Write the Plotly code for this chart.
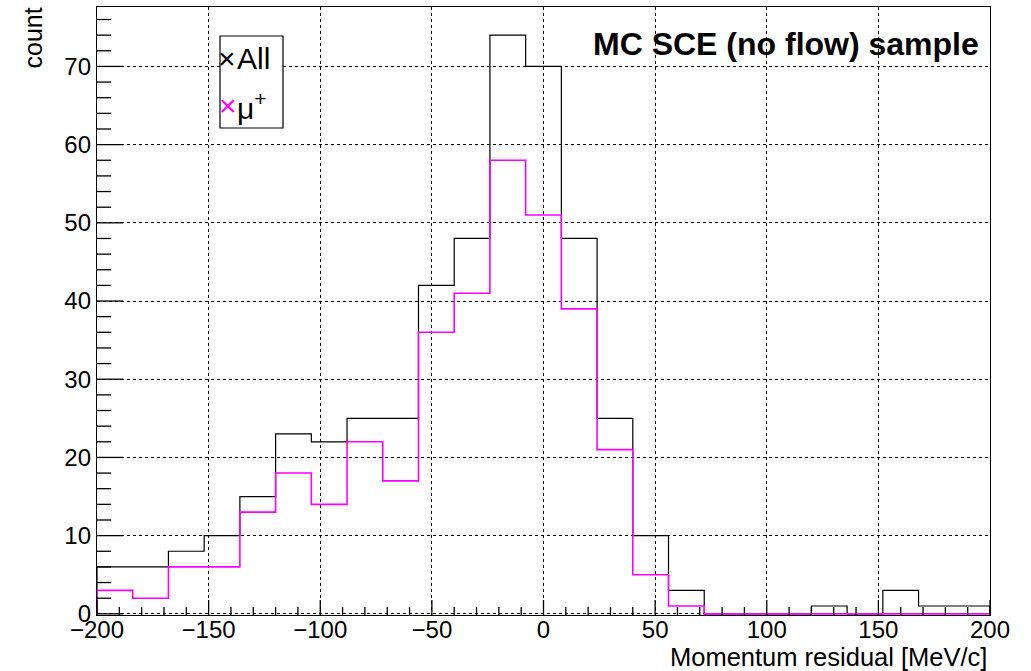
import numpy as np
import plotly.graph_objects as go

# Histogram binning: 25 bins of 16 MeV/c between -200 and 200
x_low, x_high, n_bins = -200.0, 200.0, 25

# Bin contents, left to right
counts_all = [6, 6, 8, 10, 15, 23, 22, 25, 25, 42, 48, 74, 70, 48, 25, 10, 3,
              0, 0, 0, 1, 0, 3, 1, 1]
counts_mu = [3, 2, 6, 6, 13, 18, 14, 22, 17, 36, 41, 58, 51, 39, 21, 5, 1,
             0, 0, 0, 0, 0, 0, 0, 0]

# Axis divisions
x_major = [-200, -150, -100, -50, 0, 50, 100, 150, 200]
x_minor_step = 10
y_major = [0, 10, 20, 30, 40, 50, 60, 70]
y_minor_step = 2
y_top = 77.6

FONT = "Liberation Sans, Arial, Helvetica, sans-serif"

edges = np.linspace(x_low, x_high, n_bins + 1)


def outline(values):
    """Step outline of a histogram (ROOT 'HIST' style)."""
    xs = [edges[0]] + list(edges) + [edges[-1]]
    ys = [0] + list(values) + [values[-1], 0]
    return xs, ys


fig = go.Figure()

for vals, color, width, name in [(counts_all, "black", 1.2, "All"),
                                 (counts_mu, "#ff00ff", 1.6, "μ+")]:
    xs, ys = outline(vals)
    fig.add_trace(go.Scatter(x=xs, y=ys, mode="lines", line_shape="hv",
                             line=dict(color=color, width=width),
                             name=name, showlegend=False))

# plot-area geometry in pixels (used for placing paper-referenced items)
W, H = 1031, 671
L, R, T, B = 97, 41, 7, 56
pw, ph = W - L - R, H - T - B


def px(xp):
    return (xp - L) / pw


def py(yp):
    return (H - B - yp) / ph


axis_style = dict(showline=True, linecolor="black", linewidth=1.4, mirror=True,
                  showgrid=True, gridcolor="black", gridwidth=1,
                  griddash="dot", zeroline=False, ticks="",
                  tickfont=dict(family=FONT, size=24, color="black"))

fig.update_xaxes(range=[x_low, x_high], tickmode="array", tickvals=x_major,
                 ticklabelstandoff=-7, **axis_style)
fig.update_yaxes(range=[-0.15, y_top], tickmode="array", tickvals=y_major,
                 **axis_style)

# ROOT-style tick marks pointing into the frame
TICK_W = 1.3
shapes = []
x_minor = [float(v) for v in np.arange(x_low, x_high + 1, x_minor_step)
           if v not in x_major]
y_minor = [float(v) for v in np.arange(0, y_top, y_minor_step)
           if v not in y_major]
for v, length in [(v, 15) for v in x_major] + [(v, 8) for v in x_minor]:
    shapes.append(dict(type="line", xref="x", yref="paper", x0=v, x1=v,
                       y0=0, y1=length / ph,
                       line=dict(color="black", width=TICK_W), layer="above"))
for v, length in [(v, 26) for v in y_major] + [(v, 14) for v in y_minor]:
    shapes.append(dict(type="line", xref="paper", yref="y", x0=0,
                       x1=length / pw, y0=v, y1=v,
                       line=dict(color="black", width=TICK_W), layer="above"))

# legend frame
shapes.append(dict(type="rect", xref="paper", yref="paper",
                   x0=px(220), x1=px(283), y0=py(128), y1=py(36),
                   fillcolor="white", line=dict(color="black", width=1.2),
                   layer="above"))


def note(text, x, y, size, color="black", **kw):
    return dict(text=text, x=px(x), y=py(y), xref="paper", yref="paper",
                showarrow=False, font=dict(family=FONT, size=size, color=color),
                **kw)


annotations = [
    # axis titles (right/top aligned as in ROOT)
    note("Momentum residual [MeV/c]", 989, 657, 25.5,
         xanchor="right", yanchor="middle"),
    note("count", 33, 6, 25, textangle=-90, xanchor="center", yanchor="top"),
    # sample label
    note("<b>MC SCE (no flow) sample</b>", 981, 44, 32,
         xanchor="right", yanchor="middle"),
    # legend entries
    note("×", 227, 59, 30, xanchor="center", yanchor="middle"),
    note("All", 235, 58, 30, xanchor="left", yanchor="middle"),
    note("×", 228, 106, 30, color="#ff00ff", xanchor="center", yanchor="middle"),
    note("μ<sup>+</sup>", 235, 106, 30, xanchor="left", yanchor="middle"),
]

fig.update_layout(
    width=W, height=H,
    margin=dict(l=L, r=R, t=T, b=B, pad=0),
    paper_bgcolor="white", plot_bgcolor="white",
    font=dict(family=FONT, color="black"),
    showlegend=False,
    annotations=annotations,
    shapes=shapes,
)

fig.write_html("out.html")
